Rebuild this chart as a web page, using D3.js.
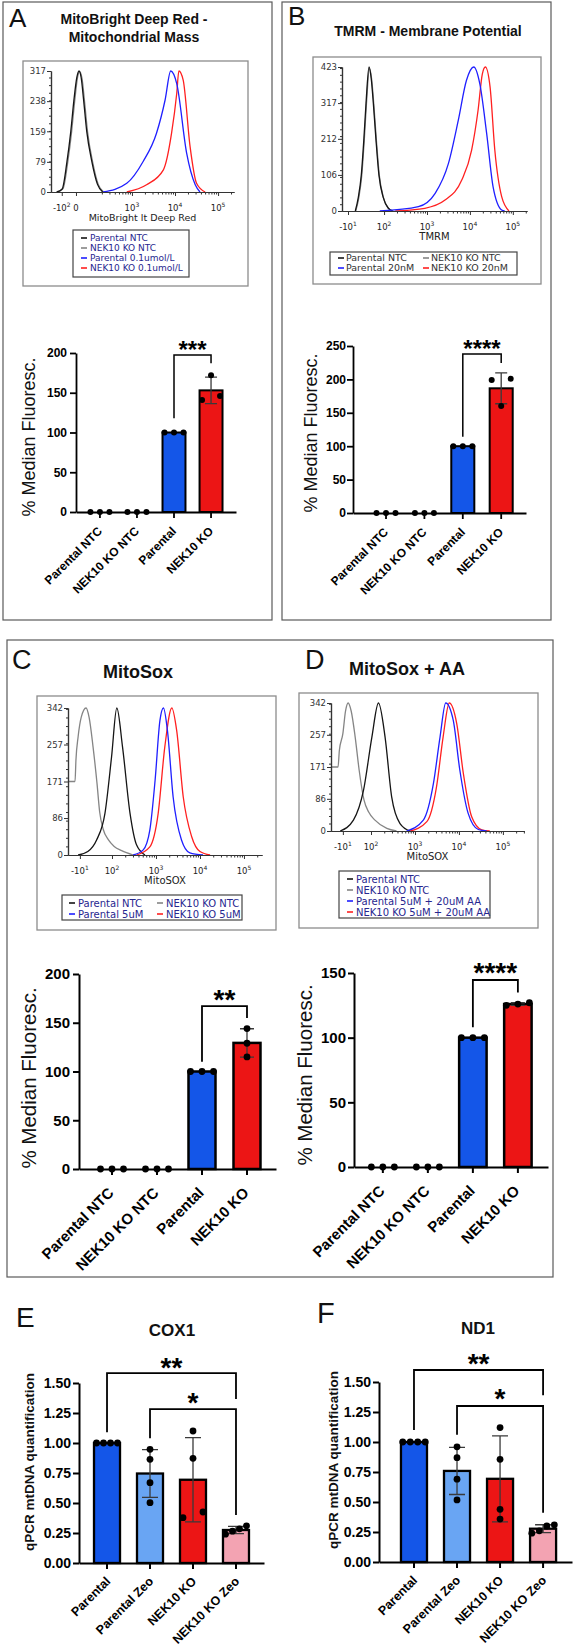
<!DOCTYPE html>
<html><head><meta charset="utf-8">
<script src="https://cdn.jsdelivr.net/npm/d3@7"></script>
<style>body{margin:0;background:#fff} svg{display:block}</style>
</head><body><svg id="fig" width="573" height="1652"></svg>
<script>
// ================= DATA =================
// Flow histograms: [display position in decades, cell count]
const histA_parentalNTC = [[1.25,0],[1.38,8],[1.49,79],[1.58,159],[1.65,238],[1.72,300],[1.77,317],[1.82,300],[1.88,238],[1.95,159],[2.07,79],[2.2,20],[2.32,0]];
const histA_koNTC = [[1.27,0],[1.40,9],[1.51,79],[1.60,159],[1.67,238],[1.74,302],[1.78,316],[1.84,298],[1.90,236],[1.97,157],[2.09,77],[2.22,19],[2.34,0]];
const histA_parental = [[2.33,0],[2.88,23],[3.26,80],[3.57,154],[3.77,241],[3.90,317],[4.04,284],[4.27,102],[4.47,19],[4.58,0]];
const histA_ko = [[2.88,0],[3.34,19],[3.73,58],[3.92,154],[4.04,258],[4.09,317],[4.19,293],[4.35,119],[4.5,23],[4.70,0]];

const histB_parentalNTC = [[1.33,0],[1.40,40],[1.47,106],[1.53,212],[1.58,317],[1.65,423],[1.70,390],[1.75,317],[1.81,212],[1.88,106],[1.98,40],[2.1,8],[2.2,0]];
const histB_koNTC = [[1.34,0],[1.41,38],[1.48,104],[1.54,210],[1.59,315],[1.66,418],[1.71,388],[1.76,315],[1.82,210],[1.89,104],[1.99,38],[2.11,7],[2.21,0]];
const histB_parental = [[1.9,0],[2.8,13],[3.19,52],[3.5,140],[3.73,267],[3.92,384],[4.09,423],[4.23,374],[4.39,228],[4.54,71],[4.74,3],[4.81,0]];
const histB_ko = [[2.26,0],[2.95,8],[3.42,32],[3.81,91],[4.04,179],[4.19,296],[4.29,403],[4.36,423],[4.47,364],[4.58,179],[4.74,42],[4.91,0]];

const histC_parentalNTC = [[1.23,0],[1.45,8],[1.65,35],[1.84,97],[1.99,228],[2.11,342],[2.24,251],[2.41,97],[2.56,23],[2.75,0]];
const histC_koNTC = [[1.0,171],[1.16,171],[1.18,220],[1.23,275],[1.3,320],[1.41,342],[1.48,320],[1.57,251],[1.66,166],[1.72,100],[1.8,60],[1.92,35],[2.05,20],[2.22,10],[2.48,0]];
const histC_parental = [[2.48,0],[2.71,12],[2.86,58],[2.98,174],[3.09,313],[3.17,342],[3.26,290],[3.39,135],[3.58,35],[3.77,5],[4.07,0]];
const histC_ko = [[2.56,0],[2.86,19],[3.05,97],[3.2,251],[3.36,342],[3.47,290],[3.62,135],[3.81,43],[4.0,8],[4.23,0]];

const histD_parentalNTC = [[1.3,0],[1.6,29],[1.83,109],[2.02,251],[2.17,342],[2.32,251],[2.47,91],[2.66,20],[2.89,0]];
const histD_koNTC = [[1.09,171],[1.25,171],[1.28,215],[1.36,260],[1.42,320],[1.48,342],[1.55,320],[1.64,251],[1.73,163],[1.84,83],[1.95,50],[2.09,29],[2.36,7],[2.58,0]];
const histD_parental = [[2.81,0],[3.19,29],[3.42,127],[3.57,251],[3.70,342],[3.87,296],[4.02,163],[4.21,47],[4.44,4],[4.63,0]];
const histD_ko = [[2.89,0],[3.27,25],[3.49,118],[3.64,251],[3.78,342],[3.95,287],[4.10,154],[4.29,38],[4.52,3],[4.70,0]];

const histA_yTicks = [0,79,159,238,317];
const histB_yTicks = [0,106,212,317,423];
const histCD_yTicks = [0,86,171,257,342];
const histA_xTicks = [{pos:1.37,base:"-10",sup:"2"},{pos:1.70,base:"0"},{pos:3,base:"10",sup:"3"},{pos:4,base:"10",sup:"4"},{pos:5,base:"10",sup:"5"}];
const histB_xTicks = [{pos:1.16,base:"-10",sup:"1"},{pos:2,base:"10",sup:"2"},{pos:3,base:"10",sup:"3"},{pos:4,base:"10",sup:"4"},{pos:5,base:"10",sup:"5"}];
const histC_xTicks = [{pos:1.27,base:"-10",sup:"1"},{pos:2,base:"10",sup:"2"},{pos:3,base:"10",sup:"3"},{pos:4,base:"10",sup:"4"},{pos:5,base:"10",sup:"5"}];
const histD_xTicks = [{pos:1.36,base:"-10",sup:"1"},{pos:2,base:"10",sup:"2"},{pos:3,base:"10",sup:"3"},{pos:4,base:"10",sup:"4"},{pos:5,base:"10",sup:"5"}];

const legendA_labels = ["Parental NTC","NEK10 KO NTC","Parental 0.1umol/L","NEK10 KO 0.1umol/L"];
const legendB_labels = ["Parental NTC","NEK10 KO NTC","Parental 20nM","NEK10 KO 20nM"];
const legendC_labels = ["Parental NTC","NEK10 KO NTC","Parental 5uM","NEK10 KO 5uM"];
const legendD_labels = ["Parental NTC","NEK10 KO NTC","Parental 5uM + 20uM AA","NEK10 KO 5uM + 20uM AA"];

// Bar charts: replicate values per category
const barCategories = ["Parental NTC","NEK10 KO NTC","Parental","NEK10 KO"];
const barA = [[0,0,0],[0,0,0],[100,100,100],[172,141,146]];
const barB = [[0,0,0],[0,0,0],[100,100,100],[201,199,160]];
const barC = [[0,0,0],[0,0,0],[100,100,100],[144,129,115]];
const barD = [[0,0,0],[0,0,0],[100,100,100],[126,127,125]];
const barAB_C_yTicks = [0,50,100,150,200];
const barB_yTicks = [0,50,100,150,200,250];
const barD_yTicks = [0,50,100,150];

const qpcrCategories = ["Parental","Parental Zeo","NEK10 KO","NEK10 KO Zeo"];
const qpcrE = [[1,1,1,1],[0.947,0.864,0.669,0.503],[1.10,0.872,0.378,0.425],[0.31,0.285,0.265,0.24]];
const qpcrF = [[1,1,1,1],[0.96,0.869,0.69,0.517],[1.12,0.856,0.439,0.358],[0.31,0.30,0.26,0.24]];
const qpcr_yTicks = [0,0.25,0.5,0.75,1.0,1.25,1.5];

// significance annotations (in data units)
const sigA = [{a:2,b:3,top:197.5,left:118,right:187,label:"***",labelY:210}];
const sigB = [{a:2,b:3,top:238,left:114,right:224.5,label:"****",labelY:254}];
const sigC = [{a:2,b:3,top:167,left:110,right:155,label:"**",labelY:180}];
const sigD = [{a:2,b:3,top:144.6,left:108,right:135,label:"****",labelY:155}];
const sigE = [{a:0,b:3,top:1.583,left:1.09,right:1.367,label:"**",labelY:1.675},{a:1,b:3,top:1.283,left:1.04,right:0.40,label:"*",labelY:1.383}];
const sigF = [{a:0,b:3,top:1.6,left:1.1,right:1.39,label:"**",labelY:1.70},{a:1,b:3,top:1.3,left:1.06,right:0.41,label:"*",labelY:1.41}];

// ================= STYLE / LAYOUT =================
const AF = "'Liberation Sans', Arial, Helvetica, sans-serif";
const HF = "'DejaVu Sans', Verdana, sans-serif";
const BLACK="#151515", GRAY="#858585", BLUE="#1f1fff", RED="#ff2020", NAVY="#27278f";
const BAR_BLUE="#1456e8", BAR_RED="#ec1515", BAR_LBLUE="#69a5f3", BAR_PINK="#f3a3b2";
const svg = d3.select("#fig");
svg.append("rect").attr("width",573).attr("height",1652).attr("fill","#fff");

function frame(r){
  svg.append("rect").attr("x",r[0]).attr("y",r[1]).attr("width",r[2]-r[0]).attr("height",r[3]-r[1])
    .attr("fill","none").attr("stroke","#5a5a5a").attr("stroke-width",1.2);
}
frame([3,2,272,620]); frame([282,2,551,620]); frame([7,640,553,1277]);

function label(t,x,y,size,weight,anchor){
  svg.append("text").attr("x",x).attr("y",y).attr("font-family",AF).attr("font-size",size)
    .attr("font-weight",weight||"normal").attr("text-anchor",anchor||"start").attr("fill","#111").text(t);
}
label("A",9,27,26); label("B",288,25,26); label("C",12,669,27); label("D",305,669,27);
label("E",16,1327,28); label("F",317,1323,29);
label("MitoBright Deep Red -",134,24,14,"bold","middle");
label("Mitochondrial Mass",134,42,14,"bold","middle");
label("TMRM - Membrane Potential",428,36,14,"bold","middle");
label("MitoSox",138,678,18,"bold","middle");
label("MitoSox + AA",407,675,18,"bold","middle");
label("COX1",172,1336,17,"bold","middle");
label("ND1",478,1334,17,"bold","middle");

// ================= HISTOGRAMS =================
function drawHist(cfg){
  const g = svg.append("g");
  const b = cfg.box;
  g.append("rect").attr("x",b[0]).attr("y",b[1]).attr("width",b[2]-b[0]).attr("height",b[3]-b[1])
    .attr("fill","#fff").attr("stroke","#8c8c8c").attr("stroke-width",1.3);
  const x = d3.scaleLinear().domain(cfg.xDomain).range([cfg.x0,cfg.x1]);
  const y = d3.scaleLinear().domain([0,d3.max(cfg.yTicks)]).range([cfg.yBot,cfg.yTop]);
  const line = d3.line().x(d=>x(d[0])).y(d=>y(d[1])).curve(d3.curveMonotoneX);
  cfg.curves.forEach(c=>{
    g.append("path").attr("d",line(c.data)).attr("fill","none").attr("stroke",c.color).attr("stroke-width",1.3);
  });
  const minor=[];
  for(let k=2;k<=5;k++) for(let m=2;m<=9;m++){const v=k+Math.log10(m); if(v<cfg.xDomain[1]) minor.push(v);}
  const styleAxis = sel => { sel.select(".domain").attr("stroke","#333").attr("stroke-width",1.2); sel.selectAll(".tick line").attr("stroke","#333"); };
  g.append("g").attr("transform",`translate(0,${cfg.yBot})`)
    .call(d3.axisBottom(x).tickValues(minor).tickSize(2.5).tickSizeOuter(0).tickFormat(""))
    .call(styleAxis);
  g.append("g").attr("transform",`translate(0,${cfg.yBot})`)
    .call(d3.axisBottom(x).tickValues(cfg.xTicks.map(t=>t.pos)).tickSize(4).tickSizeOuter(0).tickFormat(""))
    .call(styleAxis);
  cfg.xTicks.forEach(t=>{
    const tx = g.append("text").attr("x",x(t.pos)).attr("y",cfg.yBot+19).attr("text-anchor","middle")
      .attr("font-family",HF).attr("font-size",8.5).attr("fill","#222");
    tx.append("tspan").text(t.base);
    if(t.sup) tx.append("tspan").attr("dy",-4).attr("font-size",6).text(t.sup);
  });
  g.append("g").attr("transform",`translate(${cfg.x0},0)`)
    .call(d3.axisLeft(y).ticks(20).tickSize(2).tickSizeOuter(0).tickFormat(""))
    .call(styleAxis);
  g.append("g").attr("transform",`translate(${cfg.x0},0)`)
    .call(d3.axisLeft(y).tickValues(cfg.yTicks).tickSize(4).tickPadding(1).tickSizeOuter(0))
    .call(styleAxis)
    .call(s=>s.selectAll("text").attr("font-family",HF).attr("font-size",8.5).attr("fill","#333"));
  g.append("text").attr("x",(cfg.x0+cfg.x1)/2).attr("y",cfg.yBot+29).attr("text-anchor","middle")
    .attr("font-family",HF).attr("font-size",cfg.xLabelSize).attr("fill","#222").text(cfg.xLabel);
  const L = cfg.legend, lb = L.box;
  g.append("rect").attr("x",lb[0]).attr("y",lb[1]).attr("width",lb[2]-lb[0]).attr("height",lb[3]-lb[1])
    .attr("fill","#fff").attr("stroke","#444").attr("stroke-width",1.2);
  L.labels.forEach((t,i)=>{
    const cx = L.cols[i % L.cols.length], cy = L.rows[Math.floor(i / L.cols.length)];
    g.append("line").attr("x1",cx).attr("x2",cx+6).attr("y1",cy).attr("y2",cy)
      .attr("stroke",L.colors[i]).attr("stroke-width",1.6);
    g.append("text").attr("x",cx+L.gap).attr("y",cy).attr("dy","0.35em")
      .attr("font-family",HF).attr("font-size",L.size).attr("fill",L.textColor).text(t);
  });
}

drawHist({box:[23,61,248,286], x0:51, x1:234, yTop:71, yBot:192, xDomain:[1.12,5.37],
  yTicks:histA_yTicks, xTicks:histA_xTicks, xLabel:"MitoBright lt Deep Red", xLabelSize:9.5,
  curves:[{data:histA_koNTC,color:GRAY},{data:histA_parentalNTC,color:BLACK},{data:histA_ko,color:RED},{data:histA_parental,color:BLUE}],
  legend:{box:[73,230,189,277], cols:[81], rows:[238,248,258,268], gap:9, size:9, textColor:NAVY, labels:legendA_labels, colors:[BLACK,GRAY,BLUE,RED]}});
drawHist({box:[313,57,541,284], x0:342, x1:527, yTop:67, yBot:211, xDomain:[1.02,5.33],
  yTicks:histB_yTicks, xTicks:histB_xTicks, xLabel:"TMRM", xLabelSize:10,
  curves:[{data:histB_koNTC,color:GRAY},{data:histB_parentalNTC,color:BLACK},{data:histB_ko,color:RED},{data:histB_parental,color:BLUE}],
  legend:{box:[330,252,517,275], cols:[338,423], rows:[258,268], gap:8, size:9.5, textColor:"#333", labels:legendB_labels, colors:[BLACK,GRAY,BLUE,RED]}});
drawHist({box:[37,696,276,930], x0:68, x1:262, yTop:708, yBot:855, xDomain:[1.0,5.41],
  yTicks:histCD_yTicks, xTicks:histC_xTicks, xLabel:"MitoSOX", xLabelSize:10,
  curves:[{data:histC_koNTC,color:GRAY},{data:histC_parentalNTC,color:BLACK},{data:histC_ko,color:RED},{data:histC_parental,color:BLUE}],
  legend:{box:[62,895,242,920], cols:[69,157], rows:[903,914], gap:9, size:10, textColor:NAVY, labels:legendC_labels, colors:[BLACK,GRAY,BLUE,RED]}});
drawHist({box:[299,693,538,928], x0:331, x1:524, yTop:703, yBot:831, xDomain:[1.09,5.48],
  yTicks:histCD_yTicks, xTicks:histD_xTicks, xLabel:"MitoSOX", xLabelSize:10,
  curves:[{data:histD_koNTC,color:GRAY},{data:histD_parentalNTC,color:BLACK},{data:histD_ko,color:RED},{data:histD_parental,color:BLUE}],
  legend:{box:[339,871,490,918], cols:[347], rows:[879,890,901,912], gap:9, size:10, textColor:NAVY, labels:legendD_labels, colors:[BLACK,GRAY,BLUE,RED]}});

// ================= BAR CHARTS =================
function swarm(vals, y, r, s, pair){
  const idx = vals.map((v,i)=>i).sort((a,b)=>vals[a]-vals[b]);
  const clusters=[]; let cur=[idx[0]];
  for(let k=1;k<idx.length;k++){
    if(Math.abs(y(vals[idx[k]])-y(vals[idx[k-1]])) < 2*r+1) cur.push(idx[k]);
    else {clusters.push(cur); cur=[idx[k]];}
  }
  clusters.push(cur);
  const off = new Array(vals.length).fill(0);
  clusters.forEach(cl=>{const n=cl.length; cl.forEach((id,j)=>{off[id] = n===2 ? (j===0?-pair:pair) : (j-(n-1)/2)*s;});});
  return off;
}

function drawBars(cfg){
  const g = svg.append("g");
  const y = d3.scaleLinear().domain([0,d3.max(cfg.yTicks)]).range([cfg.y0,cfg.yTop]);
  const x = d3.scaleBand().domain(cfg.categories).range([cfg.axisX,cfg.xEnd])
    .paddingInner(cfg.pi).paddingOuter(cfg.po).align(cfg.align);
  const bw = x.bandwidth();
  const cx = c => x(c)+bw/2;
  const stats = cfg.values.map(v=>({mean:d3.mean(v), sd:d3.deviation(v)||0}));
  cfg.categories.forEach((c,i)=>{
    const s=stats[i];
    if(s.mean>0) g.append("rect").attr("x",x(c)).attr("y",y(s.mean)).attr("width",bw).attr("height",y(0)-y(s.mean))
      .attr("fill",cfg.colors[i]).attr("stroke","#000").attr("stroke-width",cfg.barStroke);
  });
  g.append("g").attr("transform",`translate(0,${cfg.y0})`)
    .call(d3.axisBottom(x).tickSize(6).tickSizeOuter(0))
    .call(s=>{
      s.select(".domain").attr("stroke","#000").attr("stroke-width",cfg.axisStroke);
      s.selectAll(".tick line").attr("stroke","#000").attr("stroke-width",cfg.axisStroke);
      s.selectAll("text").attr("x",0).attr("y",0).attr("dy","0.35em")
        .attr("transform",`translate(${cfg.xdx},${cfg.xdy}) rotate(-45)`).attr("text-anchor","end")
        .attr("font-family",AF).attr("font-weight","bold").attr("font-size",cfg.xFont).attr("fill","#000");
    });
  g.append("g").attr("transform",`translate(${cfg.axisX},0)`)
    .call(d3.axisLeft(y).tickValues(cfg.yTicks).tickSize(6).tickPadding(cfg.tickPad).tickSizeOuter(0).tickFormat(cfg.fmt))
    .call(s=>{
      s.select(".domain").attr("stroke","#000").attr("stroke-width",cfg.axisStroke);
      s.selectAll(".tick line").attr("stroke","#000").attr("stroke-width",cfg.axisStroke);
      s.selectAll("text").attr("font-family",AF).attr("font-weight","bold").attr("font-size",cfg.tickFont).attr("fill","#000");
    });
  cfg.categories.forEach((c,i)=>{
    const s=stats[i]; if(s.sd<=0) return;
    const xc=cx(c), lo=y(s.mean-s.sd), hi=y(s.mean+s.sd);
    g.append("path").attr("d",`M${xc},${lo}V${hi}M${xc-cfg.cap},${hi}H${xc+cfg.cap}M${xc-cfg.cap},${lo}H${xc+cfg.cap}`)
      .attr("stroke","#3a3a3a").attr("stroke-width",1.3).attr("fill","none");
  });
  cfg.categories.forEach((c,i)=>{
    const vals=cfg.values[i], off=swarm(vals,y,cfg.r,cfg.s,cfg.pair);
    vals.forEach((v,j)=>g.append("circle").attr("cx",cx(c)+off[j]).attr("cy",y(v)).attr("r",cfg.r).attr("fill","#000"));
  });
  cfg.sig.forEach(s=>{
    const xa=cx(cfg.categories[s.a]), xb=cx(cfg.categories[s.b]);
    g.append("path").attr("d",`M${xa},${y(s.left)}V${y(s.top)}H${xb}V${y(s.right)}`)
      .attr("fill","none").attr("stroke","#000").attr("stroke-width",cfg.brStroke);
    g.append("text").attr("x",(xa+xb)/2).attr("y",y(s.labelY)+0.55*cfg.starSize).attr("text-anchor","middle")
      .attr("font-family",AF).attr("font-weight","bold").attr("font-size",cfg.starSize).text(s.label);
  });
  const L=cfg.yLabel;
  g.append("text").attr("transform",`translate(${L.x},${L.y}) rotate(-90)`).attr("text-anchor","middle")
    .attr("font-family",AF).attr("font-weight",L.weight).attr("font-size",L.size).attr("fill","#111").text(L.text);
}

const fmt0 = d3.format("d"), fmt2 = d3.format(".2f");
drawBars({categories:barCategories, values:barA, colors:[null,null,BAR_BLUE,BAR_RED],
  axisX:76, xEnd:236, yTop:353, y0:512, yTicks:barAB_C_yTicks, fmt:fmt0,
  pi:0.38, po:0.35, align:0.48, r:3, s:9.5, pair:9, barStroke:2, axisStroke:1.8, brStroke:1.5,
  tickFont:12, tickPad:3, xFont:12, xdx:0, xdy:17, cap:6, starSize:24, sig:sigA,
  yLabel:{text:"% Median Fluoresc.", x:35, y:437, size:18, weight:"normal"}});
drawBars({categories:barCategories, values:barB, colors:[null,null,BAR_BLUE,BAR_RED],
  axisX:353, xEnd:526, yTop:346, y0:513, yTicks:barB_yTicks, fmt:fmt0,
  pi:0.40, po:0.453, align:0.618, r:3, s:9.5, pair:9.5, barStroke:2, axisStroke:1.8, brStroke:1.5,
  tickFont:12, tickPad:1, xFont:12, xdx:0, xdy:17, cap:6, starSize:24, sig:sigB,
  yLabel:{text:"% Median Fluoresc.", x:317, y:433, size:18, weight:"normal"}});
drawBars({categories:barCategories, values:barC, colors:[null,null,BAR_BLUE,BAR_RED],
  axisX:79, xEnd:276, yTop:974, y0:1169, yTicks:barAB_C_yTicks, fmt:fmt0,
  pi:0.40, po:0.389, align:0.557, r:3.4, s:11.5, pair:11, barStroke:2.5, axisStroke:2, brStroke:1.8,
  tickFont:15, tickPad:3, xFont:15, xdx:-1, xdy:21, cap:7, starSize:28, sig:sigC,
  yLabel:{text:"% Median Fluoresc.", x:36, y:1078, size:20.5, weight:"normal"}});
drawBars({categories:barCategories, values:barD, colors:[null,null,BAR_BLUE,BAR_RED],
  axisX:354, xEnd:548, yTop:973, y0:1167, yTicks:barD_yTicks, fmt:fmt0,
  pi:0.39, po:0.35, align:0.48, r:3.4, s:11.5, pair:11, barStroke:2.5, axisStroke:2, brStroke:1.8,
  tickFont:15, tickPad:2, xFont:15, xdx:-1, xdy:21, cap:7, starSize:28, sig:sigD,
  yLabel:{text:"% Median Fluoresc.", x:312, y:1075, size:20.5, weight:"normal"}});
drawBars({categories:qpcrCategories, values:qpcrE, colors:[BAR_BLUE,BAR_LBLUE,BAR_RED,BAR_PINK],
  axisX:79, xEnd:264, yTop:1383, y0:1563, yTicks:qpcr_yTicks, fmt:fmt2,
  pi:0.395, po:0.349, align:0.5, r:3.4, s:7, pair:10, barStroke:2.3, axisStroke:2, brStroke:1.8,
  tickFont:14, tickPad:2, xFont:12.5, xdx:1, xdy:16, cap:8, starSize:28, sig:sigE,
  yLabel:{text:"qPCR mtDNA quantification", x:34, y:1462, size:13.5, weight:"bold"}});
drawBars({categories:qpcrCategories, values:qpcrF, colors:[BAR_BLUE,BAR_LBLUE,BAR_RED,BAR_PINK],
  axisX:379, xEnd:572, yTop:1382, y0:1562, yTicks:qpcr_yTicks, fmt:fmt2,
  pi:0.395, po:0.44, align:0.58, r:3.4, s:7.5, pair:10, barStroke:2.3, axisStroke:2, brStroke:1.8,
  tickFont:14, tickPad:2, xFont:12.5, xdx:1, xdy:16, cap:8, starSize:28, sig:sigF,
  yLabel:{text:"qPCR mtDNA quantification", x:338, y:1460, size:13.5, weight:"bold"}});
</script></body></html>
